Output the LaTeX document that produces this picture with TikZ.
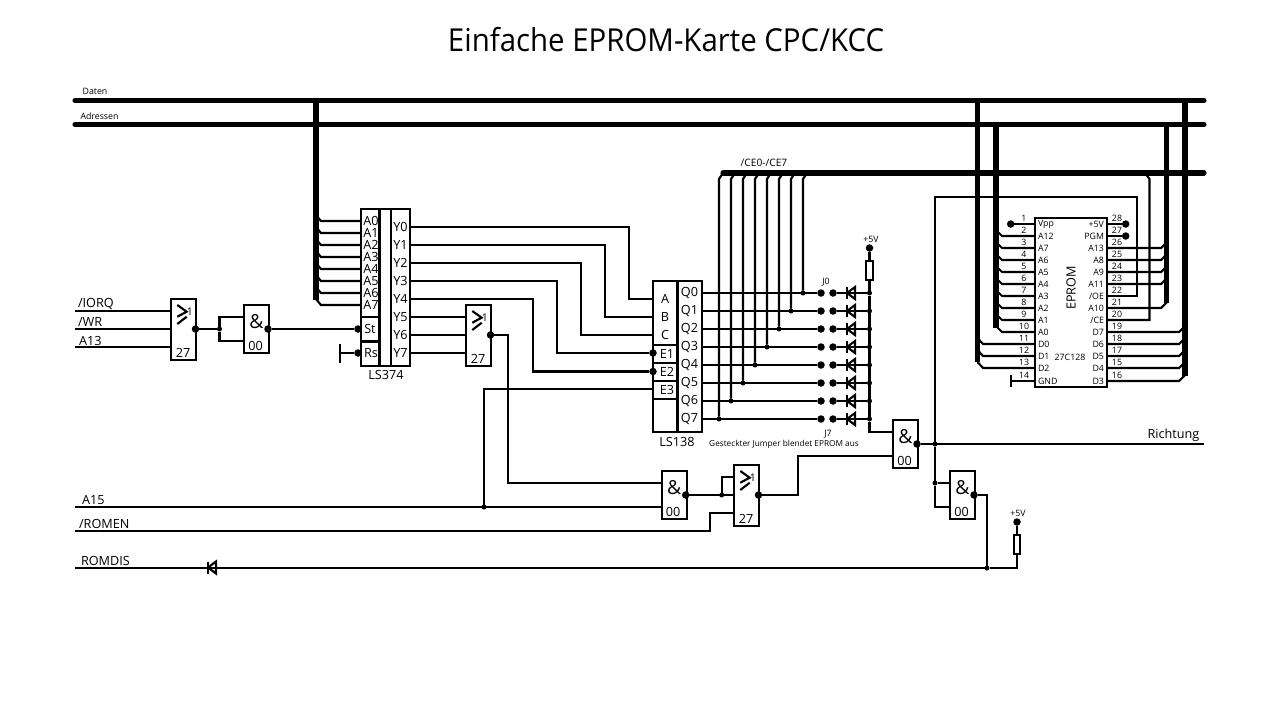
\documentclass[tikz,border=0pt]{standalone}
\usepackage{fontspec}
\setmainfont{Open Sans}
\newcommand{\labfont}{\fontsize{7.2}{8}\selectfont}
\newcommand{\minifont}{\fontsize{5}{6}\selectfont}
\newcommand{\titlefont}{\fontsize{18}{20}\selectfont}
\tikzset{
  lab/.style={font=\labfont,inner sep=0pt},
  mini/.style={font=\minifont,inner sep=0pt},
  chip/.style={draw,rectangle,inner sep=0pt,outer sep=0pt,anchor=north west},
  bus/.style={line width=2.9pt,line cap=round},
  pindot/.style={circle,fill,inner sep=0pt,outer sep=0pt,minimum size=0.15cm},
  junc/.style={circle,fill,inner sep=0pt,outer sep=0pt,minimum size=0.1cm},
  pics/diode/.style={code={\draw (-4,-6) -- (-4,6); \draw (-4,0) -- (4,-6) -- (4,6) -- cycle;}},
  pics/norgate/.style={code={
    \node[chip,minimum width=0.5cm,minimum height=1.22cm] (box) at (0,0) {};
    \draw (6.3,6) -- (15.7,12.7) -- (6.3,17.7); \draw (6.3,25) -- (15.7,17.7);
    \node[mini,font=\fontsize{6}{7}\selectfont] (one) at (19,13) {1}; \node[lab] (type) at (12,54) {27};
    \coordinate (in1) at (0,12); \coordinate (in2) at (0,30); \coordinate (in3) at (0,48);
    \node[pindot] (out) at (24.5,30) {};}},
  pics/nandgate/.style={code={
    \node[chip,minimum width=0.5cm,minimum height=0.96cm] (box) at (0,0) {};
    \node[font=\fontsize{11}{12}\selectfont,inner sep=0pt] (amp) at (12.5,17) {\&};
    \node[lab] (type) at (11.5,41) {00};
    \coordinate (in1) at (0,12); \coordinate (in2) at (0,36);
    \node[pindot] (out) at (24,24) {};}}
}
\begin{document}
\begin{tikzpicture}[x=0.02cm,y=-0.02cm,line width=1.2pt]
\useasboundingbox (0,0) rectangle (1279,711);
\node[font=\titlefont,inner sep=0pt,xscale=0.93] (title) at (666,40) {Einfache EPROM-Karte CPC/KCC};

\coordinate (datenL) at (75,100.5); \coordinate (datenR) at (1204,100.5);
\coordinate (adrL) at (75,124.5); \coordinate (adrR) at (1204,124.5);
\coordinate (ceL) at (723,173); \coordinate (ceR) at (1204,173);
\draw[bus] (datenL) -- (datenR); \draw[bus] (adrL) -- (adrR); \draw[bus] (ceL) -- (ceR);
\node[mini] (daten) at (95,91) {Daten}; \node[mini] (adressen) at (99.5,116) {Adressen};
\node[mini,font=\fontsize{5.8}{6}\selectfont] (cetxt) at (764,163) {/CE0-/CE7};
\draw[bus,line cap=butt] (316,100.5) -- (316,300);
\draw[bus,line cap=butt] (977.5,100.5) -- (977.5,362); \draw[bus,line cap=butt] (996,124.5) -- (996,328);
\draw[bus,line cap=butt] (1166.7,124.5) -- (1166.7,303); \draw[bus,line cap=butt] (1185,100.5) -- (1185,376);

\coordinate (iorq) at (75,311); \coordinate (wr) at (75,329); \coordinate (a13) at (75,347);
\node[lab,anchor=west] (iorqtxt) at (77,304) {/IORQ}; \node[lab,anchor=west] (wrtxt) at (77,322) {/WR};
\node[lab,anchor=west] (a13txt) at (78,341) {A13};
\pic (nora) at (171,299) {norgate};
\pic (nanda) at (244,305) {nandgate};
\draw (iorq) -- (norain1); \draw (wr) -- (norain2); \draw (a13) -- (norain3);
\node[junc] (jsplit) at (219.5,329) {};
\draw (noraout) -- (jsplit); \draw (jsplit) |- (nandain1); \draw (jsplit) |- (nandain2);

\node[chip,minimum width=0.98cm,minimum height=3.14cm] (lsa) at (361,209) {};
\draw (379.5,209) -- (379.5,366); \draw (391,209) -- (391,366);
\draw (361,317) -- (379.5,317); \draw (361,341.5) -- (379.5,341.5);
\node[lab] (lsatxt) at (386,375) {LS374};
\foreach \i/\y in {0/221,1/233,2/245,3/257,4/269,5/281,6/293,7/305}{
  \node[lab] (la\i) at (371,\y) {A\i};
  \coordinate (tapa\i) at (316,\y-6);
  \draw (361,\y) -- (321,\y) -- (tapa\i);
}
\foreach \i/\y in {0/227,1/245,2/263,3/281,4/299,5/317,6/335,7/353}{
  \node[lab] (ly\i) at (400.5,\y) {Y\i};
  \coordinate (yp\i) at (410,\y);
}
\node[lab] (sttxt) at (370,329) {St}; \node[lab] (rstxt) at (371,353) {Rs};
\node[pindot] (st) at (358,329) {}; \node[pindot] (rs) at (358,353) {};
\draw (nandaout) -- (st);
\coordinate (gnda) at (340,353);
\draw (rs) -- (gnda); \draw (340,344) -- (340,363);

\pic (norb) at (466,305) {norgate};
\draw (yp5) -- (norbin1); \draw (yp6) -- (norbin2); \draw (yp7) -- (norbin3);

\node[chip,minimum width=0.98cm,minimum height=3.02cm] (lsb) at (653,281) {};
\draw (677.5,281) -- (677.5,432);
\draw (653,345) -- (677.5,345); \draw (653,363) -- (677.5,363);
\draw (653,381) -- (677.5,381); \draw (653,399) -- (677.5,399);
\node[lab] (lsbtxt) at (677,442) {LS138};
\node[lab] (atxt) at (665,299) {A}; \node[lab] (btxt) at (665,317) {B}; \node[lab] (ctxt) at (665,335) {C};
\node[lab] (e1txt) at (667,354) {E1}; \node[lab] (e2txt) at (667,372) {E2}; \node[lab] (e3txt) at (667,390) {E3};
\coordinate (ina) at (653,299); \coordinate (inb) at (653,317); \coordinate (inc) at (653,335);
\coordinate (ine3) at (653,389);
\node[pindot] (ine1) at (653,353) {}; \node[pindot] (ine2) at (653,371.5) {};
\draw (yp0) -- (629,227) |- (ina); \draw (yp1) -- (605,245) |- (inb); \draw (yp2) -- (581,263) |- (inc);
\draw (yp3) -- (557,281) |- (ine1); \draw (yp4) -- (533,299) |- (ine2);

\foreach \i/\y/\x in {0/293/803,1/311/791,2/329/779,3/347/767,4/365/755,5/383/743,6/401/731,7/419/719}{
  \node[lab] (lq\i) at (689.5,\y) {Q\i};
  \coordinate (qp\i) at (702,\y);
  \node[junc] (jce\i) at (\x,\y) {};
  \node[pindot] (jma\i) at (821,\y) {};
  \node[pindot] (jmb\i) at (833,\y) {};
  \node[junc] (rail\i) at (869.5,\y) {};
  \pic (dio\i) at (851,\y) {diode};
  \coordinate (cet\i) at (\x+4,173);
  \draw (qp\i) -- (jma\i); \draw (jmb\i) -- (rail\i);
  \draw (jce\i) -- (\x,179) -- (cet\i);
}
\node[mini] (j0txt) at (826,282) {J0}; \node[mini] (j7txt) at (828,434) {J7};
\node[mini,font=\fontsize{4.7}{6}\selectfont] (jumptxt) at (784,444) {Gesteckter Jumper blendet EPROM aus};
\node[mini] (vatxt) at (871,239) {+5V};
\node[pindot] (vcca) at (869.5,248) {};
\node[draw,rectangle,inner sep=0pt,minimum width=0.13cm,minimum height=0.38cm,anchor=north] (ra) at (869.5,260) {};
\draw (vcca) -- (ra); \draw (ra) -- (rail0); \draw (rail0) -- (rail7);

\pic (nandb) at (893,420) {nandgate};
\draw (rail7) |- (nandbin1);
\node[junc] (jrich) at (935,444) {}; \coordinate (richt) at (1204,444);
\draw (nandbout) -- (richt);
\node[lab] (richttxt) at (1173.5,435) {Richtung};

\coordinate (a15) at (75,507); \coordinate (romen) at (75,531); \coordinate (romdis) at (75,568);
\node[lab,anchor=west] (a15txt) at (81,500) {A15}; \node[lab,anchor=west] (romentxt) at (78,524) {/ROMEN};
\node[lab,anchor=west] (romdistxt) at (80,561) {ROMDIS};
\pic (nandc) at (661.7,471) {nandgate};
\pic (norc) at (734,465) {norgate};
\node[junc] (ja15) at (484,507) {};
\draw (a15) -- (nandcin2); \draw (ine3) -| (ja15);
\draw (norbout) -- (508,335) |- (nandcin1);
\node[junc] (jnor) at (721.7,495) {};
\draw (nandcout) -- (norcin2); \draw (jnor) |- (norcin1);
\draw (romen) -- (710,531) |- (norcin3);
\draw (norcout) -- (797.7,495) |- (nandbin2);

\pic (nandd) at (950,471) {nandgate};
\node[junc] (jrom) at (935,483) {};
\draw (jrich) -- (jrom); \draw (jrom) -- (nanddin1); \draw (jrom) |- (nanddin2);
\node[junc] (jdis) at (987,568) {};
\draw (nanddout) -| (jdis);
\node[pindot] (vccb) at (1017,522) {}; \node[mini] (vbtxt) at (1018,513) {+5V};
\node[draw,rectangle,inner sep=0pt,minimum width=0.13cm,minimum height=0.37cm,anchor=north] (rb) at (1017,534) {};
\draw (vccb) -- (rb); \draw (romdis) -- (jdis); \draw (jdis) -| (rb);
\pic (diodis) at (212,567.5) {diode};

\node[chip,minimum width=1.44cm,minimum height=3.38cm] (eprom) at (1035,218) {};
\node[mini,font=\labfont,rotate=90] (epromtxt) at (1071,288) {EPROM};
\node[mini] (typetxt) at (1070,357) {27C128};
\foreach \n/\t/\y in {1/Vpp/224,2/A12/236,3/A7/248,4/A6/260,5/A5/272,6/A4/284,7/A3/296,8/A2/308,9/A1/320,10/A0/332,11/D0/344,12/D1/356,13/D2/368,14/GND/381}{
  \coordinate (pl\n) at (1035,\y);
  \node[mini,anchor=west] (tl\n) at (1037,\y) {\t};
  \node[mini] (nl\n) at (1024,\y-5.5) {\n};
}
\foreach \n/\t/\y in {28/+5V/224,27/PGM/236,26/A13/248,25/A8/260,24/A9/272,23/A11/284,22/{/OE}/296,21/A10/308,20/{/CE}/320,19/D7/332,18/D6/344,17/D5/356,15/D4/368,16/D3/381}{
  \coordinate (pr\n) at (1107,\y);
  \node[mini,anchor=east] (tr\n) at (1105,\y) {\t};
  \node[mini] (nr\n) at (1117,\y-5.5) {\n};
}
\foreach \n/\y in {2/236,3/248,4/260,5/272,6/284,7/296,8/308,9/320,10/332}{
  \coordinate (tapb\n) at (996,\y-6);
  \draw (pl\n) -- (1002,\y) -- (tapb\n);
}
\foreach \n/\y in {11/344,12/356,13/368}{
  \coordinate (tapc\n) at (977.5,\y-6);
  \draw (pl\n) -- (983,\y) -- (tapc\n);
}
\foreach \n/\y in {26/248,25/260,24/272,23/284,21/308}{
  \coordinate (tapd\n) at (1167,\y-6);
  \draw (pr\n) -- (1161,\y) -- (tapd\n);
}
\foreach \n/\y in {19/332,18/344,17/356,15/368,16/381}{
  \coordinate (tape\n) at (1185,\y-6);
  \draw (pr\n) -- (1179,\y) -- (tape\n);
}
\node[pindot] (vpp) at (1010.7,224) {}; \draw (vpp) -- (pl1);
\node[pindot] (vcc) at (1125.7,224) {}; \draw (vcc) -- (pr28);
\node[pindot] (pgm) at (1125.7,236) {}; \draw (pgm) -- (pr27);
\coordinate (gndb) at (1010.7,381); \draw (pl14) -- (gndb); \draw (1010.7,375) -- (1010.7,387);
\draw (pr22) -| (1137,197) -| (jrich);
\coordinate (cetap) at (1145,173);
\draw (pr20) -- (1149.5,320) -- (1149.5,179) -- (cetap);
\end{tikzpicture}
\end{document}
